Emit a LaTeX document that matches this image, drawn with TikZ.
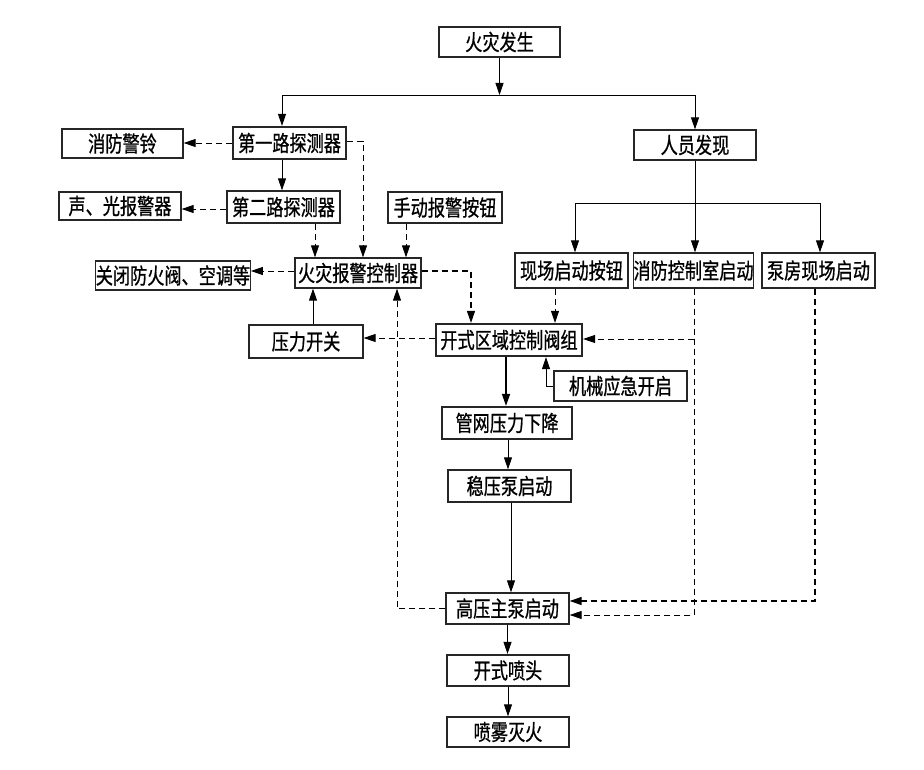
\documentclass[tikz,border=0pt]{standalone}
\usepackage{fontspec}
\newfontfamily\cjk[FakeStretch=0.78,FakeBold=0.8]{Noto Sans CJK SC}
\usetikzlibrary{arrows.meta}
\begin{document}
\begin{tikzpicture}[x=1pt,y=-1pt,
  box/.style={draw=black!85,line width=1.3pt,fill=white,inner sep=0pt,font=\cjk\fontsize{22}{22}\selectfont},
  thickbox/.style={box,line width=2.2pt},
  arr/.style={line width=0.9pt,-{Triangle[length=12pt,width=8pt]}},
  darr/.style={arr,dash pattern=on 6pt off 4pt},
  ln/.style={line width=0.9pt}]
\useasboundingbox (0,0) rectangle (924,770);
\fill[white] (0,0) rectangle (924,770);
% nodes
\node[box,minimum width=121,minimum height=30] (fire) at (499.5,42) {火灾发生};
\node[thickbox,minimum width=113,minimum height=32] (det1) at (289.5,143) {第一路探测器};
\node[box,minimum width=121,minimum height=29] (bell) at (122.5,143.5) {消防警铃};
\node[box,minimum width=122,minimum height=30] (person) at (695,145) {人员发现};
\node[box,minimum width=113,minimum height=32] (det2) at (283.5,207) {第二路探测器};
\node[box,minimum width=122,minimum height=28] (sound) at (120,206) {声、光报警器};
\node[box,minimum width=114,minimum height=31] (manual) at (445,207.5) {手动报警按钮};
\node[box,minimum width=126,minimum height=30] (ctrl) at (358,273) {火灾报警控制器};
\node[box,minimum width=154,minimum height=29] (close) at (173,275.5) {关闭防火阀、空调等};
\node[box,minimum width=114,minimum height=33] (psw) at (306,341.5) {压力开关};
\node[thickbox,minimum width=146,minimum height=32] (valve) at (509,340) {开式区域控制阀组};
\node[box,minimum width=113,minimum height=35] (btn) at (571.5,270.5) {现场启动按钮};
\node[box,minimum width=119,minimum height=35] (room) at (693.5,270.5) {消防控制室启动};
\node[box,minimum width=113,minimum height=35] (pump) at (818.5,270.5) {泵房现场启动};
\node[box,minimum width=133,minimum height=30] (mech) at (620.5,386) {机械应急开启};
\node[thickbox,minimum width=130,minimum height=32] (pipe) at (507,423) {管网压力下降};
\node[box,minimum width=123,minimum height=32] (stab) at (509.5,486) {稳压泵启动};
\node[box,minimum width=123,minimum height=31] (main) at (507.5,608.5) {高压主泵启动};
\node[thickbox,minimum width=122,minimum height=31] (nozzle) at (508,670.5) {开式喷头};
\node[box,minimum width=122,minimum height=30] (spray) at (508,732) {喷雾灭火};
% junctions
\coordinate (j1) at (499.5,95);
\coordinate (j2) at (695,203);
% connectors
\draw[arr] (fire) -- (j1);
\draw[arr] (j1) -| ([xshift=-7.5]det1.north);
\draw[arr] (j1) -| (person.north);
\draw[darr] (det1.west) -- (det1.west -| bell.east);
\draw[darr] ([yshift=2]det1.east) -| ([xshift=5]ctrl.north);
\draw[arr] ([xshift=-7.5]det1.south) -- ([xshift=-7.5]det1.south |- det2.north);
\draw[darr] ([yshift=-2]det2.west) -- ([yshift=-2]det2.west -| sound.east);
\draw[darr] ([xshift=31.5]det2.south) -- ([xshift=31.5]det2.south |- ctrl.north);
\draw[darr] ([xshift=-39]manual.south) -- ([xshift=-39]manual.south |- ctrl.north);
\draw[darr] ([yshift=2]ctrl.west) -- ([yshift=2]ctrl.west -| close.east);
\draw[arr] ([xshift=7]psw.north) -- ([xshift=7]psw.north |- ctrl.south);
\draw[darr] ([yshift=2]valve.west) -- ([yshift=2]valve.west -| psw.east);
\draw[darr,line width=1.3pt] ([yshift=2]ctrl.east) -| ([xshift=-38]valve.north);
\draw[darr] (main.west) -| ([xshift=39]ctrl.south);
\draw[ln] (person.south) -- (j2);
\draw[arr] (j2) -| ([xshift=3.5]btn.north);
\draw[arr] (j2) -- (j2 |- room.north);
\draw[arr] (j2) -| ([xshift=1.5]pump.north);
\draw[darr] ([xshift=-16.5]btn.south) -- ([xshift=-16.5]btn.south |- valve.north);
\draw[darr] ([xshift=0.5]room.south) |- ([yshift=1]valve.east);
\draw[darr] ([xshift=0.5]room.south) |- ([yshift=-6.5]main.east);
\draw[darr,line width=1.4pt] ([xshift=-3.5]pump.south) |- ([yshift=7.5]main.east);
\draw[arr] (mech.west) -| ([xshift=37]valve.south);
\draw[arr,line width=1.6pt] ([xshift=-3]valve.south) -- ([xshift=-3]valve.south |- pipe.north);
\draw[arr] ([xshift=1]pipe.south) -- ([xshift=1]pipe.south |- stab.north);
\draw[arr] ([xshift=1.5]stab.south) -- ([xshift=1.5]stab.south |- main.north);
\draw[arr] (main.south) -- (main.south |- nozzle.north);
\draw[arr] (nozzle.south) -- (nozzle.south |- spray.north);
\end{tikzpicture}
\end{document}
